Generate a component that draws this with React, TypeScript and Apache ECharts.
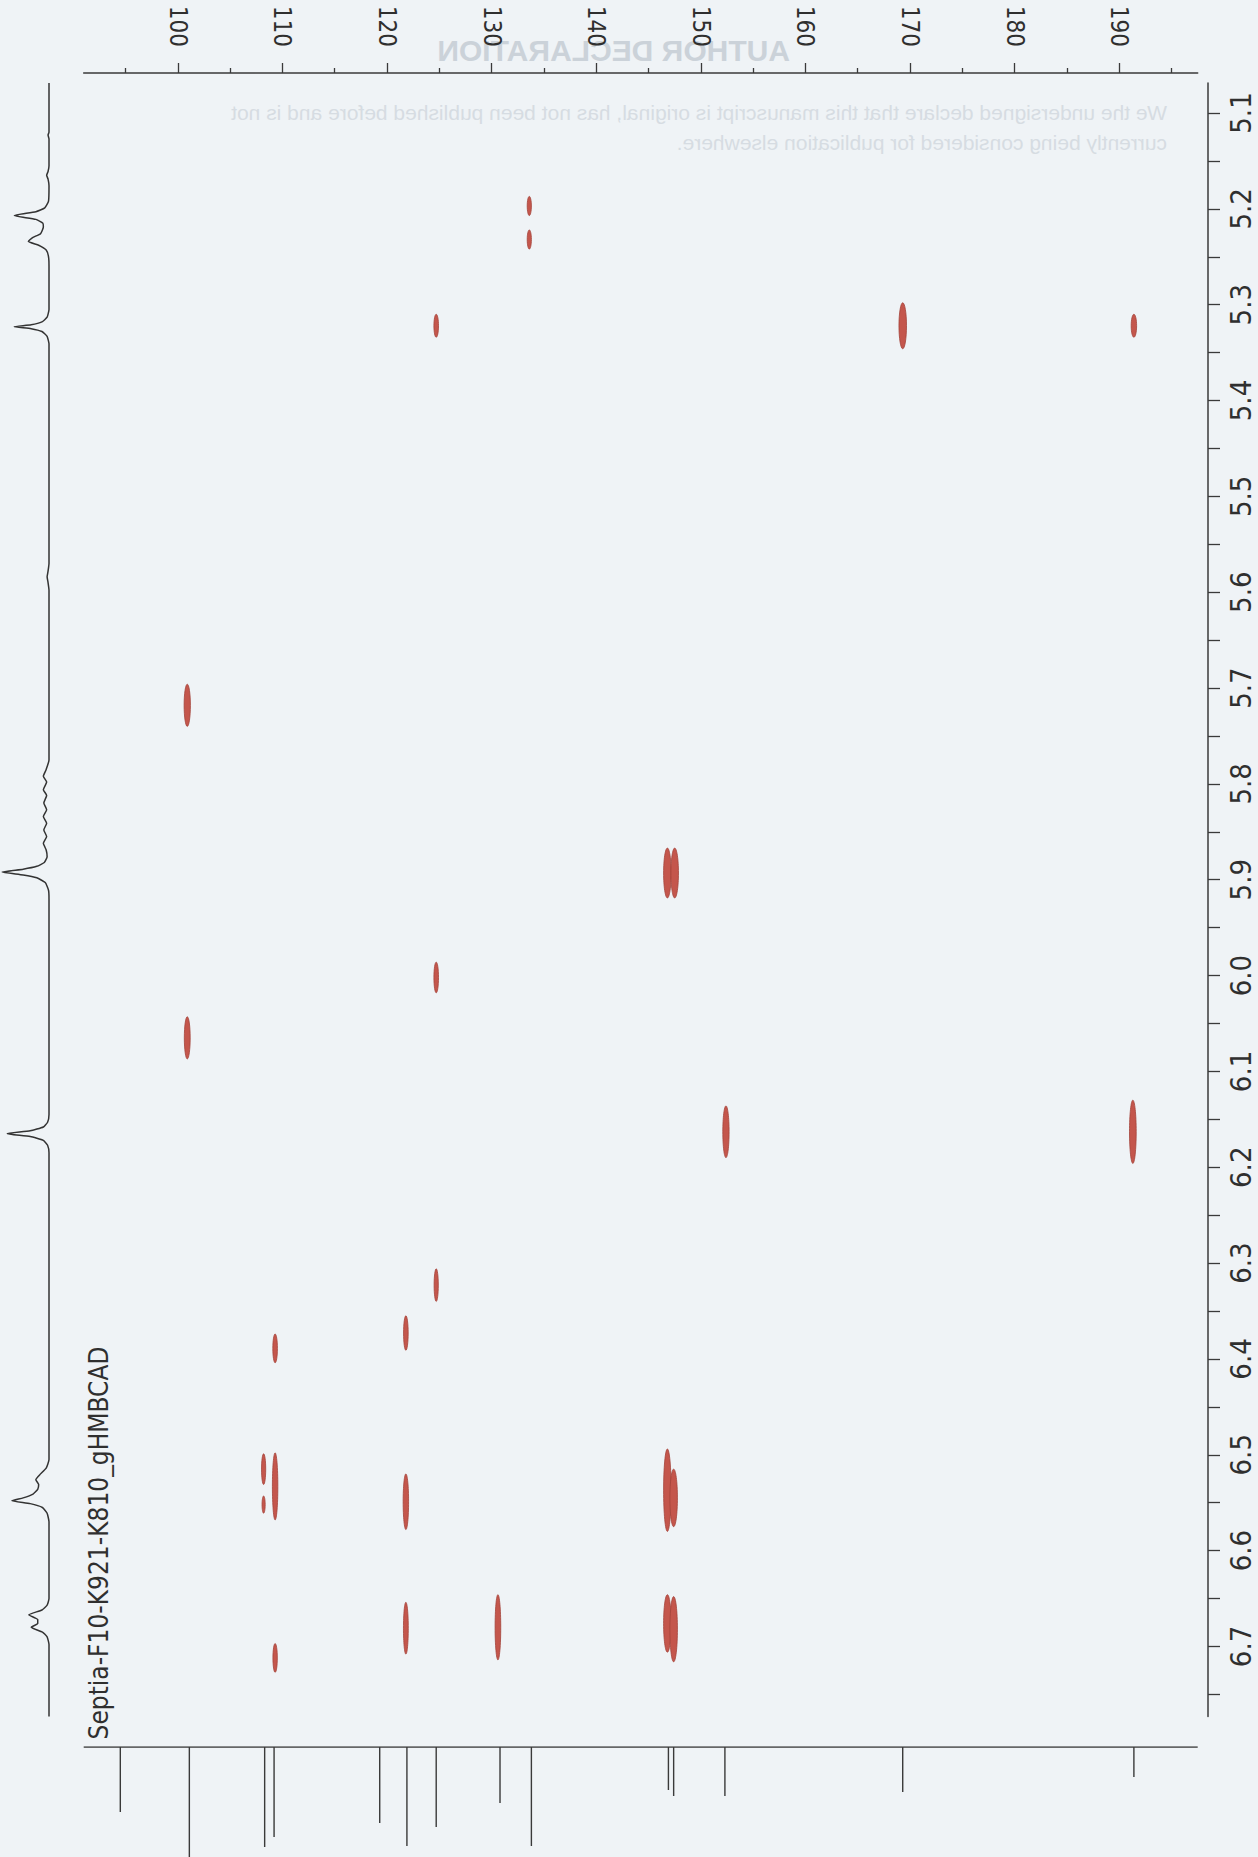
import React, { useEffect, useRef } from "react";
import * as echarts from "echarts";

// ---- axis ranges (ppm) ----
const carbonRange = [91.0, 197.5];
const protonRange = [5.0687, 6.7731];
const carbonLabelValues = [100, 110, 120, 130, 140, 150, 160, 170, 180, 190];
const carbonMinorValues = [95, 105, 115, 125, 135, 145, 155, 165, 175, 185, 195];
const protonLabelValues = [5.1, 5.2, 5.3, 5.4, 5.5, 5.6, 5.7, 5.8, 5.9, 6.0, 6.1, 6.2, 6.3, 6.4, 6.5, 6.6, 6.7];
const protonTickValues = [
  5.1, 5.15, 5.2, 5.25, 5.3, 5.35, 5.4, 5.45, 5.5, 5.55, 5.6, 5.65, 5.7, 5.75, 5.8, 5.85,
  5.9, 5.95, 6.0, 6.05, 6.1, 6.15, 6.2, 6.25, 6.3, 6.35, 6.4, 6.45, 6.5, 6.55, 6.6, 6.65, 6.7, 6.75,
];

// ---- HMBC cross peaks: 13C shift, 1H shift, half-width (ppm 13C), half-height (ppm 1H) ----
const peakC = [
  133.6, 133.6, 124.7, 169.3, 191.4, 100.9, 146.8, 147.5, 124.7, 100.9, 152.4, 191.3,
  124.7, 121.8, 109.3, 108.2, 108.2, 109.3, 121.8, 146.8, 147.4, 130.6, 121.8, 146.8, 147.4, 109.3,
];
const peakH = [
  5.197, 5.232, 5.322, 5.322, 5.322, 5.718, 5.893, 5.893, 6.002, 6.065, 6.163, 6.163,
  6.323, 6.373, 6.389, 6.515, 6.552, 6.533, 6.549, 6.537, 6.545, 6.680, 6.681, 6.676, 6.682, 6.712,
];
const peakDC = [
  0.2, 0.2, 0.22, 0.36, 0.26, 0.3, 0.36, 0.36, 0.22, 0.28, 0.3, 0.32,
  0.2, 0.22, 0.22, 0.2, 0.15, 0.26, 0.26, 0.36, 0.36, 0.27, 0.23, 0.36, 0.36, 0.21,
];
const peakDH = [
  0.010, 0.010, 0.012, 0.024, 0.012, 0.022, 0.026, 0.026, 0.016, 0.022, 0.027, 0.033,
  0.017, 0.018, 0.015, 0.016, 0.009, 0.035, 0.029, 0.043, 0.030, 0.034, 0.027, 0.030, 0.034, 0.015,
];

// ---- 1H projection trace: [ppm, intensity] ----
const protonTrace = [
  [5.0687, 0], [5.12, 0], [5.123, 2], [5.127, 0], [5.155, 0], [5.161, 2], [5.165, 5], [5.169, 2], [5.176, 0],
  [5.192, 1], [5.199, 9], [5.203, 28], [5.207, 74], [5.211, 28], [5.215, 13], [5.219, 12], [5.226, 18],
  [5.230, 35], [5.234, 44], [5.238, 22], [5.243, 6], [5.250, 1], [5.260, 0],
  [5.305, 0], [5.313, 4], [5.318, 15], [5.321, 38], [5.323, 74], [5.325, 38], [5.328, 15], [5.333, 4], [5.341, 0],
  [5.570, 0], [5.578, 2], [5.584, 4], [5.590, 2], [5.598, 0],
  [5.775, 0], [5.785, 6], [5.792, 12], [5.798, 5], [5.806, 12], [5.812, 5], [5.820, 11], [5.827, 5],
  [5.834, 12], [5.841, 5], [5.848, 11], [5.855, 5], [5.862, 12], [5.869, 6], [5.876, 4], [5.882, 10],
  [5.886, 26], [5.889, 55], [5.892, 100], [5.895, 55], [5.898, 26], [5.903, 8], [5.911, 1], [5.920, 0],
  [6.145, 0], [6.153, 3], [6.158, 12], [6.162, 40], [6.165, 89], [6.168, 40], [6.172, 12], [6.177, 3], [6.185, 0],
  [6.505, 0], [6.514, 6], [6.521, 20], [6.526, 28], [6.531, 22], [6.536, 24], [6.541, 34], [6.545, 55],
  [6.548, 79], [6.551, 40], [6.555, 14], [6.561, 4], [6.570, 0],
  [6.650, 0], [6.657, 4], [6.662, 15], [6.667, 43], [6.672, 24], [6.676, 24], [6.680, 38], [6.685, 14],
  [6.690, 4], [6.698, 0], [6.7731, 0],
];

// ---- 13C 1D spectrum peaks ----
const carbonShifts = [94.5, 101.1, 108.3, 109.2, 119.3, 121.9, 124.7, 130.8, 133.8, 146.9, 147.4, 152.3, 169.3, 191.4];
const carbonHeights = [65, 115, 100, 90, 76, 99, 80, 56, 99, 43, 49, 49, 45, 30];

const titleText = "Septia-F10-K921-K810_gHMBCAD";
const ghostHeading = "AUTHOR DECLARATION";
const ghostLine1 = "We the undersigned declare that this manuscript is original, has not been published before and is not";
const ghostLine2 = "currently being considered for publication elsewhere.";

const NARROW = '"Liberation Sans Narrow", "DejaVu Sans Condensed", "Liberation Sans", sans-serif';

export default function App() {
  const ref = useRef<HTMLDivElement>(null);

  useEffect(() => {
    if (!ref.current) return;
    const chart = echarts.init(ref.current, null, { renderer: "svg" });

    const crossData = peakC.map((c, i) => [c, peakH[i], peakDC[i], peakDH[i]]);
    const hData = protonTrace.map(([ppm, inten]) => [inten, ppm]);

    const order = carbonShifts.map((_, i) => i).sort((a, b) => carbonShifts[a] - carbonShifts[b]);
    const cData: number[][] = [[carbonRange[0], 0]];
    order.forEach((i) => {
      cData.push([carbonShifts[i], 0], [carbonShifts[i], carbonHeights[i]], [carbonShifts[i], 0]);
    });
    cData.push([carbonRange[1], 0]);

    const axisColor = "#3a3a3a";
    const labelColor = "#2f2f2f";

    chart.setOption({
      animation: false,
      backgroundColor: "#eff3f6",
      grid: [
        { left: 83.7, top: 83, width: 1114, height: 1633.5 },
        { left: 0, top: 83, width: 49, height: 1633.5 },
        { left: 83.7, top: 1747, width: 1114, height: 110 },
      ],
      xAxis: [
        {
          type: "value",
          gridIndex: 0,
          position: "top",
          offset: 10,
          min: carbonRange[0],
          max: carbonRange[1],
          axisLine: { show: true, lineStyle: { color: axisColor, width: 1.5 } },
          axisTick: { show: true, customValues: carbonLabelValues, length: 10, lineStyle: { color: axisColor, width: 1.3 } },
          axisLabel: {
            show: true,
            customValues: carbonLabelValues,
            rotate: 90,
            margin: 26,
            color: labelColor,
            fontSize: 24,
            fontFamily: NARROW,
            formatter: (v: number) => String(Math.round(v)),
          },
          splitLine: { show: false },
        },
        {
          type: "value",
          gridIndex: 0,
          position: "top",
          offset: 10,
          min: carbonRange[0],
          max: carbonRange[1],
          axisLine: { show: false },
          axisTick: { show: true, customValues: carbonMinorValues, length: 5, lineStyle: { color: axisColor, width: 1.3 } },
          axisLabel: { show: false },
          splitLine: { show: false },
        },
        { type: "value", gridIndex: 1, inverse: true, min: 0, max: 104.3, show: false },
        { type: "value", gridIndex: 2, min: carbonRange[0], max: carbonRange[1], show: false },
      ],
      yAxis: [
        {
          type: "value",
          gridIndex: 0,
          position: "right",
          offset: 10.3,
          inverse: true,
          min: protonRange[0],
          max: protonRange[1],
          axisLine: { show: true, lineStyle: { color: axisColor, width: 1.5 } },
          axisTick: { show: true, customValues: protonTickValues, length: 12, lineStyle: { color: axisColor, width: 1.3 } },
          axisLabel: {
            show: true,
            customValues: protonLabelValues,
            rotate: 90,
            margin: 18,
            color: labelColor,
            fontSize: 29,
            fontFamily: NARROW,
            formatter: (v: number) => v.toFixed(1),
          },
          splitLine: { show: false },
        },
        { type: "value", gridIndex: 1, inverse: true, min: protonRange[0], max: protonRange[1], show: false },
        { type: "value", gridIndex: 2, inverse: true, min: 0, max: 110, show: false },
      ],
      graphic: [
        {
          type: "text",
          x: 790,
          y: 50,
          scaleX: -1,
          silent: true,
          style: {
            text: ghostHeading,
            fontSize: 30,
            fontWeight: "bold",
            fontFamily: '"Liberation Sans", sans-serif',
            fill: "#cbd2d9",
            textAlign: "left",
            textVerticalAlign: "middle",
          },
        },
        {
          type: "text",
          x: 1167,
          y: 112,
          scaleX: -1,
          silent: true,
          style: {
            text: ghostLine1,
            fontSize: 21,
            fontFamily: '"Liberation Sans", sans-serif',
            fill: "#d6dce2",
            textAlign: "left",
            textVerticalAlign: "middle",
          },
        },
        {
          type: "text",
          x: 1167,
          y: 142,
          scaleX: -1,
          silent: true,
          style: {
            text: ghostLine2,
            fontSize: 21,
            fontFamily: '"Liberation Sans", sans-serif',
            fill: "#d6dce2",
            textAlign: "left",
            textVerticalAlign: "middle",
          },
        },
        {
          type: "text",
          x: 99,
          y: 1543,
          rotation: Math.PI / 2,
          style: {
            text: titleText,
            fontSize: 26,
            fontFamily: NARROW,
            fill: "#2f2f2f",
            textAlign: "center",
            textVerticalAlign: "middle",
          },
        },
      ],
      series: [
        {
          type: "custom",
          xAxisIndex: 0,
          yAxisIndex: 0,
          data: crossData,
          renderItem: (params: any, api: any) => {
            const p = api.coord([api.value(0), api.value(1)]);
            const s = api.size([api.value(2), api.value(3)]);
            return {
              type: "ellipse",
              shape: { cx: p[0], cy: p[1], rx: s[0], ry: s[1] },
              style: { fill: "#c4564c", stroke: "#a3433a", lineWidth: 0.8 },
            };
          },
        },
        {
          type: "line",
          xAxisIndex: 2,
          yAxisIndex: 1,
          data: hData,
          showSymbol: false,
          smooth: 0.15,
          lineStyle: { color: "#333333", width: 1.5 },
        },
        {
          type: "line",
          xAxisIndex: 3,
          yAxisIndex: 2,
          data: cData,
          showSymbol: false,
          lineStyle: { color: "#3a3a3a", width: 1.4 },
        },
      ],
    });

    return () => chart.dispose();
  }, []);

  return <div ref={ref} style={{ position: "absolute", left: 0, top: 0, width: 1258, height: 1857 }} />;
}
